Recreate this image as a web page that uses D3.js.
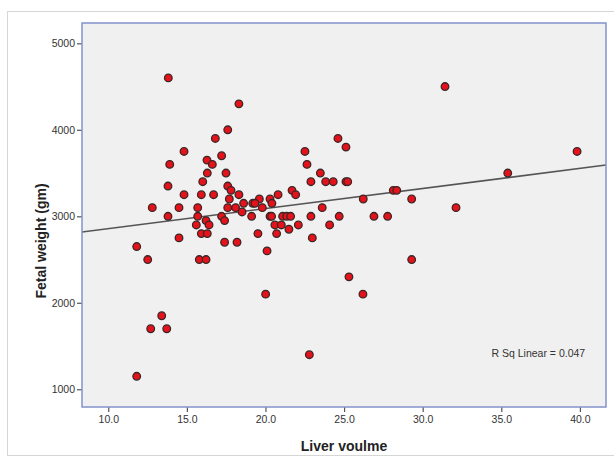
<!DOCTYPE html>
<html>
<head>
<meta charset="utf-8">
<script src="https://cdn.jsdelivr.net/npm/d3@7"></script>
<style>
  body { margin: 0; background: #fff; }
  text { font-family: "Liberation Sans", Arial, sans-serif; }
</style>
</head>
<body>
<div id="chart"></div>
<script>
// liver volume (x) and fetal weight in gm (y)
const liverVolume = [
  13.82, 18.31, 17.60, 16.81, 14.82, 17.21, 16.28, 16.62, 13.91, 16.30,
  17.49, 16.01, 13.80, 17.60, 17.81, 14.82, 15.92, 16.70, 18.31, 17.70,
  21.69, 21.92, 20.80, 20.29, 19.61, 18.61, 19.19, 19.33, 20.41, 12.80,
  14.50, 15.69, 17.60, 18.10, 19.80, 18.51, 13.80, 15.69, 17.21, 19.12,
  20.29, 20.39, 21.09, 21.35, 21.60, 16.22, 17.40, 15.60, 16.41, 20.60,
  21.01, 21.49, 22.09, 14.50, 15.92, 16.30, 17.40, 18.19, 19.52, 20.71,
  11.81, 12.51, 15.79, 16.22, 20.10, 20.01, 13.40, 12.70, 13.72, 11.81,
  22.79, 25.31, 26.20, 24.61, 25.12, 22.51, 22.64, 23.49, 22.89, 23.83,
  24.31, 25.12, 25.23, 26.22, 23.61, 22.89, 24.69, 26.90, 27.77, 24.08,
  22.98, 31.42, 39.82, 35.41, 28.13, 28.35, 29.30, 32.12, 29.30
];
const fetalWeight = [
  4600, 4300, 4000, 3900, 3750, 3700, 3650, 3600, 3600, 3500,
  3500, 3400, 3350, 3350, 3300, 3250, 3250, 3250, 3250, 3200,
  3300, 3250, 3250, 3200, 3200, 3150, 3150, 3150, 3150, 3100,
  3100, 3100, 3100, 3100, 3100, 3050, 3000, 3000, 3000, 3000,
  3000, 3000, 3000, 3000, 3000, 2950, 2950, 2900, 2900, 2900,
  2900, 2850, 2900, 2750, 2800, 2800, 2700, 2700, 2800, 2800,
  2650, 2500, 2500, 2500, 2600, 2100, 1850, 1700, 1700, 1150,
  1400, 2300, 2100, 3900, 3800, 3750, 3600, 3500, 3400, 3400,
  3400, 3400, 3400, 3200, 3100, 3000, 3000, 3000, 3000, 2900,
  2750, 4500, 3750, 3500, 3300, 3300, 3200, 3100, 2500
];
const xTicks = [10, 15, 20, 25, 30, 35, 40];
const yTicks = [1000, 2000, 3000, 4000, 5000];
// linear fit drawn by SPSS
const fitIntercept = 2624;
const fitSlope = 23.25;
const rSqLabel = "R Sq Linear = 0.047";

const W = 614, H = 462;
const plot = { left: 82, top: 23, right: 606, bottom: 407 };

const svg = d3.select("#chart").append("svg")
  .attr("width", W)
  .attr("height", H);

// outer frame
svg.append("rect")
  .attr("x", 7.5).attr("y", 11.5)
  .attr("width", W).attr("height", 444)
  .attr("fill", "#fff")
  .attr("stroke", "#d6d6d6");

const x = d3.scaleLinear().domain([8.33, 41.66]).range([plot.left, plot.right]);
const y = d3.scaleLinear().domain([795, 5235]).range([plot.bottom, plot.top]);

svg.append("rect")
  .attr("x", plot.left).attr("y", plot.top)
  .attr("width", plot.right - plot.left)
  .attr("height", plot.bottom - plot.top)
  .attr("fill", "#f0f0f0");

const xAxis = svg.append("g")
  .attr("transform", `translate(0,${plot.bottom})`)
  .call(d3.axisBottom(x).tickValues(xTicks).tickFormat(d3.format(".1f")).tickSize(5).tickPadding(4));
const yAxis = svg.append("g")
  .attr("transform", `translate(${plot.left},0)`)
  .call(d3.axisLeft(y).tickValues(yTicks).tickFormat(d3.format("d")).tickSize(5).tickPadding(2));

[xAxis, yAxis].forEach(g => {
  g.select(".domain").remove();
  g.selectAll(".tick line").attr("stroke", "#555").attr("stroke-width", 1.2);
  g.selectAll(".tick text")
    .attr("fill", "#333")
    .style("font-size", "10.5px")
    .style("font-family", "'Liberation Sans', Arial, sans-serif");
});

// regression line, clipped to plot
svg.append("clipPath").attr("id", "clip")
  .append("rect")
  .attr("x", plot.left).attr("y", plot.top)
  .attr("width", plot.right - plot.left)
  .attr("height", plot.bottom - plot.top);

const xd = x.domain();
svg.append("line")
  .attr("clip-path", "url(#clip)")
  .attr("x1", x(xd[0])).attr("y1", y(fitIntercept + fitSlope * xd[0]))
  .attr("x2", x(xd[1])).attr("y2", y(fitIntercept + fitSlope * xd[1]))
  .attr("stroke", "#555")
  .attr("stroke-width", 1.6);

svg.append("g")
  .selectAll("circle")
  .data(liverVolume.map((v, i) => [v, fetalWeight[i]]))
  .join("circle")
  .attr("cx", d => x(d[0]))
  .attr("cy", d => y(d[1]))
  .attr("r", 3.8)
  .attr("fill", "#e3121b")
  .attr("stroke", "#3b2626")
  .attr("stroke-width", 1.3);

// plot border
svg.append("rect")
  .attr("x", plot.left).attr("y", plot.top)
  .attr("width", plot.right - plot.left)
  .attr("height", plot.bottom - plot.top)
  .attr("fill", "none")
  .attr("stroke", "#8393cc")
  .attr("stroke-width", 1.5);

svg.append("text")
  .attr("x", 491.5).attr("y", 357)
  .attr("fill", "#333")
  .style("font-size", "10.5px")
  .text(rSqLabel);

svg.append("text")
  .attr("x", (plot.left + plot.right) / 2).attr("y", 451)
  .attr("text-anchor", "middle")
  .attr("fill", "#222")
  .style("font-size", "14px")
  .style("font-weight", "bold")
  .text("Liver voulme");

svg.append("text")
  .attr("transform", "translate(46,241) rotate(-90)")
  .attr("text-anchor", "middle")
  .attr("fill", "#222")
  .style("font-size", "14px")
  .style("font-weight", "bold")
  .text("Fetal weight (gm)");
</script>
</body>
</html>
